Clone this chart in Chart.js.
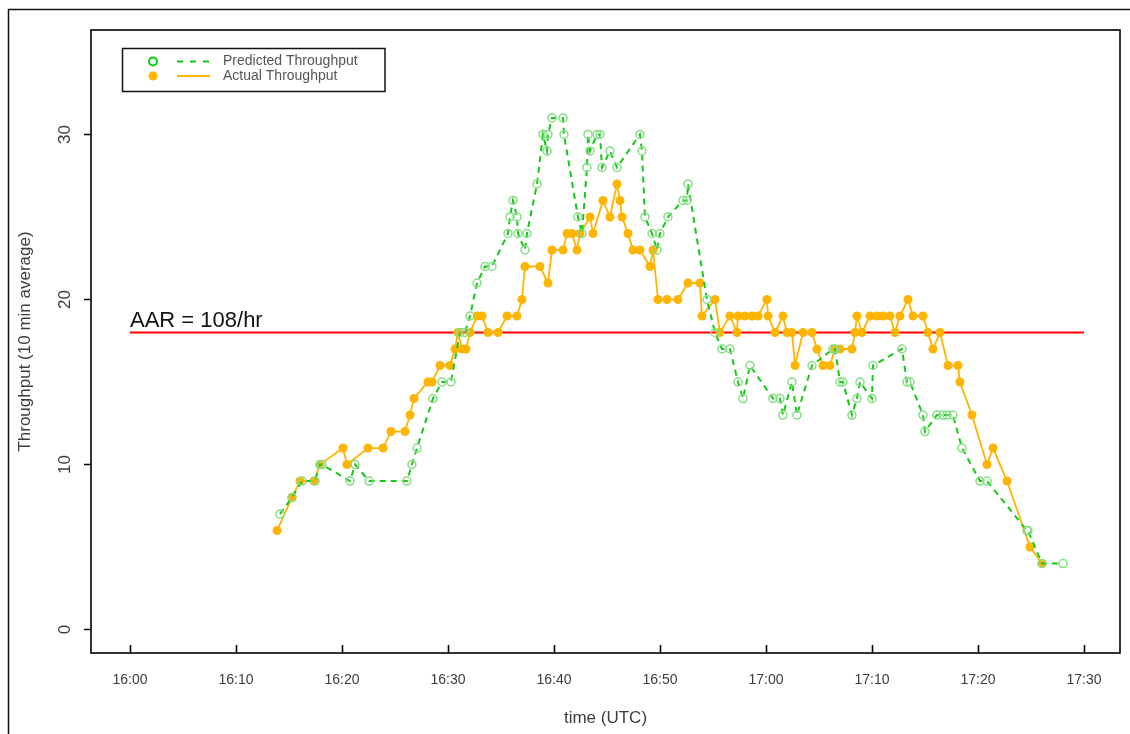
<!DOCTYPE html>
<html><head><meta charset="utf-8">
<script src="https://cdn.jsdelivr.net/npm/chart.js@4/dist/chart.umd.min.js"></script>
<style>html,body{margin:0;padding:0;background:#fff;}canvas{display:block;}</style>
</head><body>
<canvas id="c" width="1130" height="734"></canvas>
<script>
// minutes after 16:00 UTC
const xTickValues = [0, 10, 20, 30, 40, 50, 60, 70, 80, 90];
const xTickLabels = ['16:00','16:10','16:20','16:30','16:40','16:50','17:00','17:10','17:20','17:30'];
const yTickValues = [0, 10, 20, 30];

const predictedTime = [
  14.15, 15.28, 16.23, 17.45, 17.92, 18.11, 20.75, 21.23, 22.55, 26.13,
  26.60, 27.08, 28.58, 29.43, 30.28, 31.13, 31.60, 32.08, 32.74, 33.49,
  34.15, 35.66, 35.85, 36.13, 36.51, 36.60, 37.26, 37.45, 38.40, 38.96,
  39.34, 39.43, 39.81, 40.85, 40.94, 42.26, 42.64, 43.11, 43.21, 43.40,
  44.06, 44.34, 44.53, 45.28, 45.94, 48.11, 48.30, 48.58, 49.25, 49.72,
  50.00, 50.75, 52.17, 52.55, 52.64, 54.43, 55.19, 55.85, 56.60, 57.36,
  57.83, 58.49, 60.66, 61.32, 61.60, 62.45, 62.92, 64.34, 66.32, 66.51,
  66.98, 67.26, 68.11, 68.58, 68.87, 70.00, 70.09, 72.83, 73.30, 73.58,
  74.81, 75.00, 76.13, 76.70, 77.08, 77.64, 78.49, 80.19, 80.85, 84.62,
  84.72, 86.04, 88.02
];
const predictedValue = [
  7, 8, 9, 9, 10, 10, 9, 10, 9, 9,
  10, 11, 14, 15, 15, 18, 18, 19, 21, 22,
  22, 24, 25, 26, 25, 24, 23, 24, 27, 30,
  29, 30, 31, 31, 30, 25, 24, 28, 30, 29,
  30, 30, 28, 29, 28, 30, 29, 25, 24, 23,
  24, 25, 26, 26, 27, 20, 18, 17, 17, 15,
  14, 16, 14, 14, 13, 15, 13, 16, 17, 17,
  15, 15, 13, 14, 15, 14, 16, 17, 15, 15,
  13, 12, 13, 13, 13, 13, 11, 9, 9, 6,
  6, 4, 4
];

const actualTime = [
  13.87, 15.28, 16.04, 17.36, 17.92, 20.09, 20.47, 22.45, 23.87, 24.62,
  25.94, 26.42, 26.79, 28.11, 28.49, 29.25, 30.19, 30.66, 30.94, 31.32,
  31.70, 32.08, 32.74, 33.21, 33.77, 34.72, 35.57, 36.51, 36.98, 37.26,
  38.68, 39.43, 39.81, 40.85, 41.23, 41.70, 42.17, 42.45, 43.40, 43.68,
  44.62, 45.28, 45.94, 46.23, 46.42, 46.98, 47.45, 48.11, 49.06, 49.34,
  49.81, 50.66, 51.70, 52.64, 53.77, 53.96, 55.19, 55.66, 56.60, 57.26,
  57.36, 58.02, 58.68, 59.25, 60.09, 60.19, 60.85, 61.60, 61.98, 62.45,
  62.74, 63.49, 64.34, 64.81, 65.38, 66.04, 66.51, 66.98, 68.11, 68.40,
  68.58, 69.06, 69.81, 70.47, 71.04, 71.70, 72.17, 72.64, 73.40, 73.87,
  74.81, 75.28, 75.75, 76.42, 77.17, 78.11, 78.30, 79.43, 80.85, 81.42,
  82.74, 84.91, 86.04
];
const actualValue = [
  6, 8, 9, 9, 10, 11, 10, 11, 11, 12,
  12, 13, 14, 15, 15, 16, 16, 17, 18, 17,
  17, 18, 19, 19, 18, 18, 19, 19, 20, 22,
  22, 21, 23, 23, 24, 24, 23, 24, 25, 24,
  26, 25, 27, 26, 25, 24, 23, 23, 22, 23,
  20, 20, 20, 21, 21, 19, 20, 18, 19, 18,
  19, 19, 19, 19, 20, 19, 18, 19, 18, 18,
  16, 18, 18, 17, 16, 16, 17, 17, 17, 18,
  19, 18, 19, 19, 19, 19, 18, 19, 20, 19,
  19, 18, 17, 18, 16, 16, 15, 13, 10, 11,
  9, 5, 4
];

const aarValue = 18;
const aarSpan = [0, 90];
const aarLabel = 'AAR = 108/hr';
const seriesNames = ['Predicted Throughput', 'Actual Throughput'];

const GREEN_LINE = 'rgb(20,200,20)';
const GREEN_PT = 'rgb(135,222,135)';
const ORANGE = 'rgb(255,180,0)';
const TEXT = '#3c3c3c';
const FONT = '"Liberation Sans", Arial, Helvetica, sans-serif';

const toXY = (ts, vs) => ts.map((t, i) => ({x: t, y: vs[i]}));

const decor = {
  id: 'decor',
  afterDraw(chart) {
    const ctx = chart.ctx;
    const a = chart.chartArea;
    const xs = chart.scales.x, ys = chart.scales.y;
    ctx.save();
    // outer frame (left and top)
    ctx.strokeStyle = '#111';
    ctx.lineWidth = 1.5;
    ctx.beginPath();
    ctx.moveTo(8.5, 734); ctx.lineTo(8.5, 9.5); ctx.lineTo(1130, 9.5);
    ctx.stroke();
    // plot box
    ctx.lineWidth = 1.6;
    ctx.strokeStyle = '#000';
    ctx.strokeRect(a.left, a.top, a.right - a.left, a.bottom - a.top);
    // inward x ticks
    ctx.beginPath();
    xTickValues.forEach(v => {
      const px = Math.round(xs.getPixelForValue(v)) + 0.5;
      ctx.moveTo(px, a.bottom); ctx.lineTo(px, a.bottom - 8);
    });
    ctx.stroke();
    // AAR label
    ctx.fillStyle = '#111';
    ctx.font = '22px ' + FONT;
    ctx.textAlign = 'left';
    ctx.textBaseline = 'alphabetic';
    ctx.fillText(aarLabel, xs.getPixelForValue(aarSpan[0]), ys.getPixelForValue(aarValue) - 6);
    // legend
    ctx.fillStyle = '#fff';
    ctx.fillRect(122.5, 48.5, 262.5, 43);
    ctx.lineWidth = 1.5;
    ctx.strokeStyle = '#111';
    ctx.strokeRect(122.5, 48.5, 262.5, 43);
    // predicted entry
    ctx.strokeStyle = 'rgb(10,200,10)';
    ctx.lineWidth = 2;
    ctx.beginPath(); ctx.arc(153, 61.5, 4, 0, Math.PI * 2); ctx.stroke();
    ctx.setLineDash([6, 7]);
    ctx.beginPath(); ctx.moveTo(177, 61.5); ctx.lineTo(210, 61.5); ctx.stroke();
    ctx.setLineDash([]);
    // actual entry
    ctx.fillStyle = ORANGE;
    ctx.beginPath(); ctx.arc(153, 76, 4.5, 0, Math.PI * 2); ctx.fill();
    ctx.strokeStyle = ORANGE;
    ctx.beginPath(); ctx.moveTo(177, 76); ctx.lineTo(210, 76); ctx.stroke();
    ctx.fillStyle = '#555';
    ctx.font = '14px ' + FONT;
    ctx.textBaseline = 'middle';
    ctx.fillText(seriesNames[0], 223, 61.5);
    ctx.fillText(seriesNames[1], 223, 76);
    ctx.restore();
  }
};

new Chart(document.getElementById('c'), {
  type: 'line',
  data: {
    datasets: [
      {
        label: seriesNames[0],
        data: toXY(predictedTime, predictedValue),
        borderColor: GREEN_LINE,
        borderWidth: 2,
        borderDash: [6, 5],
        pointRadius: 4,
        pointBorderColor: GREEN_PT,
        pointBackgroundColor: 'rgba(255,255,255,0)',
        pointBorderWidth: 1.5,
        tension: 0,
        order: 0
      },
      {
        label: seriesNames[1],
        data: toXY(actualTime, actualValue),
        borderColor: ORANGE,
        borderWidth: 1.8,
        pointRadius: 4.5,
        pointBackgroundColor: ORANGE,
        pointBorderWidth: 0,
        tension: 0,
        order: 1
      },
      {
        label: 'AAR',
        data: aarSpan.map(t => ({x: t, y: aarValue})),
        borderColor: 'rgb(255,0,0)',
        borderWidth: 2,
        pointRadius: 0,
        order: 2
      }
    ]
  },
  options: {
    responsive: false,
    animation: false,
    devicePixelRatio: 1,
    layout: {padding: {top: 30, right: 10, left: 0, bottom: 0}},
    plugins: {legend: {display: false}, tooltip: {enabled: false}, title: {display: false}},
    scales: {
      x: {
        type: 'linear',
        min: -3.68, max: 93.4,
        afterBuildTicks: s => { s.ticks = xTickValues.map(v => ({value: v})); },
        afterFit: s => { s.height = 81; },
        grid: {display: false, drawTicks: false},
        border: {display: false},
        ticks: {
          autoSkip: false, maxRotation: 0, minRotation: 0, padding: 19,
          color: TEXT, font: {family: FONT, size: 14},
          callback: v => xTickLabels[xTickValues.indexOf(v)]
        },
        title: {display: true, text: 'time (UTC)', color: TEXT, font: {family: FONT, size: 17}, padding: {top: 0, bottom: 5}}
      },
      y: {
        type: 'linear',
        min: -1.42, max: 36.33,
        afterBuildTicks: s => { s.ticks = yTickValues.map(v => ({value: v})); },
        afterFit: s => { s.width = 91; },
        grid: {display: true, drawOnChartArea: false, drawTicks: true, tickLength: 7, tickColor: '#000', tickWidth: 1.5},
        border: {display: false},
        ticks: {
          autoSkip: false, minRotation: 90, maxRotation: 90, crossAlign: 'center', padding: 9.5,
          color: TEXT, font: {family: FONT, size: 17},
          callback: v => String(v)
        },
        title: {display: true, text: 'Throughput (10 min average)', color: TEXT, font: {family: FONT, size: 17}, padding: {top: 14.8, bottom: 0}}
      }
    }
  },
  plugins: [decor]
});
</script>
</body></html>
